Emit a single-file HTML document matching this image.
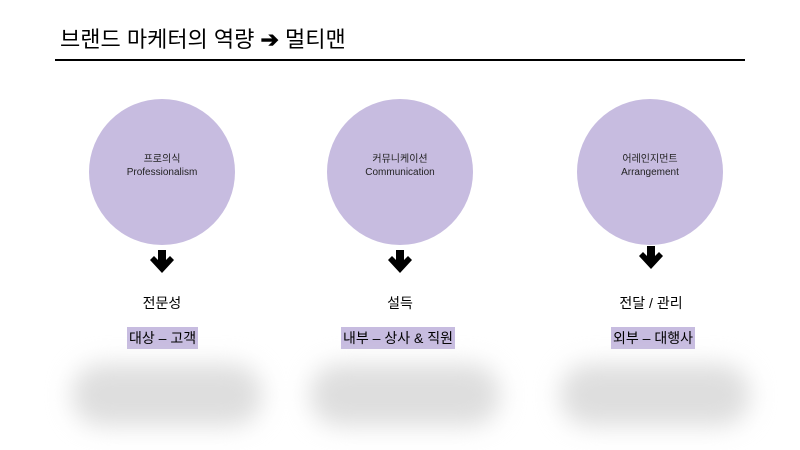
<!DOCTYPE html>
<html><head><meta charset="utf-8"><style>
body{margin:0;width:800px;height:450px;background:#fff;position:relative;overflow:hidden;font-family:"Liberation Sans","Noto Sans CJK KR",sans-serif;color:#000}
.t{position:absolute;left:60px;top:26px;font-size:22px;line-height:28px}
.ln{position:absolute;left:55px;top:59px;width:690px;height:2px;background:#000}
.c{position:absolute;width:146px;height:146px;border-radius:50%;background:#c7bce0;display:flex;align-items:center;justify-content:center;text-align:center;font-size:10px;line-height:13px;color:#222}
.c span{position:relative;top:-6px}
.l{position:absolute;font-size:14px;width:200px;text-align:center}
.h{position:absolute;font-size:14px;line-height:22px;background:#c7bce0;padding:0 2px}
.b{position:absolute;top:364px;height:62px;background:#dedede;filter:blur(12px);border-radius:30px}
</style></head><body>
<div class="t">브랜드 마케터의 역량 <b>➔</b> 멀티맨</div>
<div class="ln"></div>
<div class="c" style="left:89px;top:99px"><span>프로의식<br>Professionalism</span></div>
<div class="c" style="left:327px;top:99px"><span>커뮤니케이션<br>Communication</span></div>
<div class="c" style="left:577px;top:99px"><span>어레인지먼트<br>Arrangement</span></div>
<svg style="position:absolute;left:0;top:0" width="800" height="450">
<g fill="#000">
<polygon points="158,250 166,250 166,260 170,256 174,260 162,273 150,260 154,256 158,260"/>
<polygon points="396,250 404,250 404,260 408,256 412,260 400,273 388,260 392,256 396,260"/>
<polygon points="647,246 655,246 655,256 659,252 663,256 651,269 639,256 643,252 647,256"/>
</g></svg>
<div class="l" style="left:62px;top:293px">전문성</div>
<div class="l" style="left:300px;top:293px">설득</div>
<div class="l" style="left:551px;top:293px">전달 / 관리</div>
<div class="h" style="left:127px;top:327px">대상 – 고객</div>
<div class="h" style="left:341px;top:327px">내부 – 상사 &amp; 직원</div>
<div class="h" style="left:611px;top:327px">외부 – 대행사</div>
<div class="b" style="left:72px;width:190px"></div>
<div class="b" style="left:310px;width:190px"></div>
<div class="b" style="left:560px;width:190px"></div>
</body></html>
